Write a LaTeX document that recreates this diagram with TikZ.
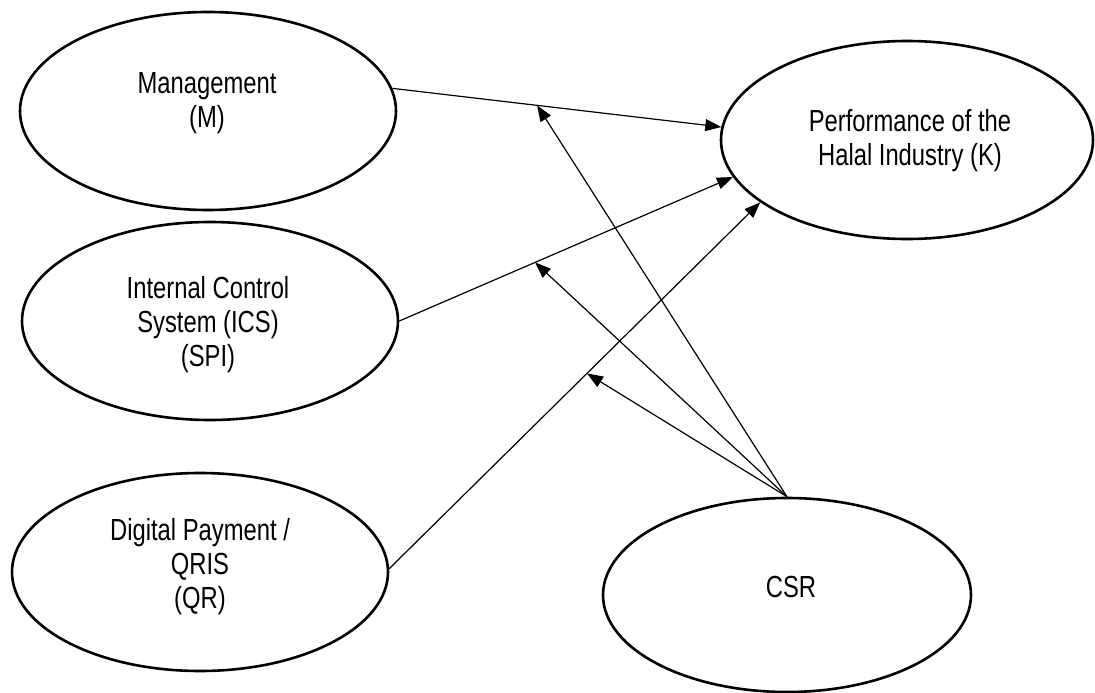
\documentclass[tikz,border=0pt]{standalone}
\usepackage{fontspec}
\setmainfont{Liberation Sans}[FakeStretch=0.78]
\usetikzlibrary{arrows.meta,shapes.geometric}
\begin{document}
\begin{tikzpicture}[x=1pt,y=-1pt,
  ell/.style={draw, line width=2.6pt, ellipse, minimum width=376pt, minimum height=198pt, inner sep=0pt},
  lbl/.style={align=center, font=\fontsize{30.5}{34}\selectfont, inner sep=0pt},
  conn/.style={line width=1.2pt, -{Triangle[length=16pt,width=12pt]}}]
\path[use as bounding box] (0,0) rectangle (1095,693);
\node[ell] (M) at (208,111) {};
\node[ell] (ICS) at (210,321) {};
\node[ell] (DP) at (200,572) {};
\node[ell, minimum width=372pt] (K) at (907,140) {};
\node[ell, minimum width=368pt, minimum height=194pt] (CSR) at (787,595) {};
\node[lbl] (tM) at (207,103) {Management\\(M)};
\node[lbl] (tICS) at (208,325) {Internal Control\\System (ICS)\\(SPI)};
\node[lbl] (tDP) at (200,567) {Digital Payment /\\QRIS\\(QR)};
\node[lbl] (tK) at (910,141) {Performance of the\\Halal Industry (K)};
\node[lbl] (tCSR) at (791,587) {CSR};
\draw[conn] (M.7.8) -- coordinate[pos=0.44] (mk) (K.176.9);
\draw[conn] (ICS.0) -- coordinate[pos=0.407] (ik) (K.192.3);
\draw[conn] (DP.1.5) -- coordinate[pos=0.533] (dk) (K.203.6);
\draw[conn] (CSR.north) -- (mk);
\draw[conn] (CSR.north) -- (ik);
\draw[conn] (CSR.north) -- (dk);
\end{tikzpicture}
\end{document}
